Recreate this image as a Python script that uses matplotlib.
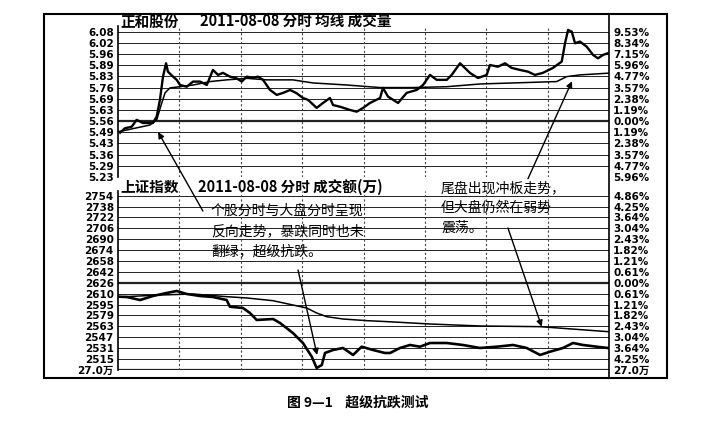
import matplotlib.pyplot as plt
import numpy as np
from matplotlib.patches import Rectangle
from matplotlib.lines import Line2D

W, H = 711, 426
plt.rcParams['font.family'] = ['Noto Sans CJK SC', 'DejaVu Sans']

# 正和股份 分时 (分钟, 价格)
t_price = [1, 3.4, 6.7, 9.1, 12.2, 17.1, 18.9, 20.5, 22, 23.5, 24.4, 26.9, 28.7, 30.3,
           33.6, 36.7, 40.1, 43.4, 46.4, 48.9, 51.3, 54.7, 58, 60.5, 62.9, 66, 68.4,
           70.9, 74.3, 77.6, 80.7, 84.1, 87.3, 90.4, 92.9, 97.1, 100.2, 103.6, 105.1,
           108.5, 113.4, 116.7, 119.8, 123.2, 128.1, 129.5, 132, 136.9, 141.1, 146,
           149.1, 152.5, 155.8, 160.7, 163.1, 167.2, 172.1, 176, 180.2, 181.8, 185.7,
           189.2, 192.4, 196.5, 200.4, 203.8, 207.7, 212.6, 216.9, 218.5, 220, 221.8,
           223.4, 225.8, 229.1, 232.2, 234.6, 237.1, 239.5]
price = [5.489, 5.515, 5.524, 5.564, 5.546, 5.546, 5.583, 5.681, 5.817, 5.895, 5.846,
         5.817, 5.798, 5.768, 5.758, 5.788, 5.788, 5.768, 5.856, 5.827, 5.839, 5.817,
         5.807, 5.788, 5.817, 5.809, 5.817, 5.798, 5.739, 5.710, 5.722, 5.739, 5.720,
         5.692, 5.681, 5.634, 5.663, 5.692, 5.651, 5.641, 5.622, 5.612, 5.634, 5.663,
         5.692, 5.751, 5.700, 5.663, 5.722, 5.739, 5.768, 5.827, 5.798, 5.798, 5.827,
         5.895, 5.838, 5.809, 5.827, 5.885, 5.875, 5.895, 5.868, 5.856, 5.846, 5.827,
         5.839, 5.868, 5.905, 6.012, 6.090, 6.080, 6.012, 6.022, 5.992, 5.944, 5.924,
         5.944, 5.954]
t_avg = [0, 4.3, 15.6, 18.9, 21.4, 23, 25.4, 30.3, 36.7, 45, 53.1, 62.9, 72.7, 85.5,
         95.3, 111.8, 128.1, 144.2, 160.7, 177, 193.1, 214.4, 219.3, 225.8, 239.5]
price_avg = [5.495, 5.505, 5.534, 5.564, 5.663, 5.722, 5.751, 5.758, 5.768, 5.788,
             5.798, 5.807, 5.798, 5.798, 5.780, 5.768, 5.753, 5.753, 5.758, 5.774,
             5.780, 5.788, 5.817, 5.827, 5.837]

# 上证指数 分时
t_index = [0.1, 4.3, 10.8, 17.1, 23.8, 28.7, 33.6, 40.1, 46.4, 53.1, 54.7, 61.1, 64.5,
           67.8, 75.8, 79.2, 85.5, 90.4, 94.7, 97.1, 99.6, 101.2, 105.1, 110, 114.9,
           119.1, 124.6, 130.5, 133, 137.8, 142.7, 147.6, 152.5, 160.7, 168.6, 176.9,
           185.1, 193.1, 199.8, 206.3, 211.2, 217.5, 222.4, 227.3, 234, 239.5]
index = [2606.3, 2605.8, 2601.4, 2607.3, 2611.7, 2614.6, 2610.2, 2607.3, 2605.8, 2601.4,
         2591.6, 2589.7, 2582.4, 2572.2, 2573.6, 2567.8, 2553.1, 2538.5, 2518.5, 2502.0,
         2506.3, 2523.9, 2528.3, 2531.2, 2521.0, 2533.1, 2528.3, 2523.9, 2523.9, 2531.2,
         2535.6, 2533.1, 2538.5, 2538.5, 2535.6, 2531.2, 2533.1, 2535.6, 2531.2, 2521.0,
         2525.8, 2531.2, 2538.5, 2535.6, 2533.1, 2531.2]
t_index_avg = [0, 20.5, 36.7, 53.1, 62.9, 75.8, 85.5, 92.3, 97.1, 102, 110, 121.6, 132,
               152.5, 176.9, 206.3, 239.5]
index_avg = [2605.8, 2608.7, 2610.2, 2606.3, 2604.4, 2600.4, 2594.1, 2589.7, 2582.4,
             2577.0, 2573.6, 2571.2, 2569.7, 2566.3, 2563.4, 2562.4, 2555.1]

price_left = ['6.08', '6.02', '5.96', '5.89', '5.83', '5.76', '5.69', '5.63', '5.56',
              '5.49', '5.43', '5.36', '5.29', '5.23']
price_right = ['9.53%', '8.34%', '7.15%', '5.96%', '4.77%', '3.57%', '2.38%', '1.19%',
               '0.00%', '1.19%', '2.38%', '3.57%', '4.77%', '5.96%']
index_left = ['2754', '2738', '2722', '2706', '2690', '2674', '2658', '2642', '2626',
              '2610', '2595', '2579', '2563', '2547', '2531', '2515', '27.0万']
index_right = ['4.86%', '4.25%', '3.64%', '3.04%', '2.43%', '1.82%', '1.21%', '0.61%',
               '0.00%', '0.61%', '1.21%', '1.82%', '2.43%', '3.04%', '3.64%', '4.25%',
               '27.0万']

label_font = dict(fontweight='bold', fontsize=7.5, family=['DejaVu Sans', 'Noto Sans CJK SC'])


def rect(x0, y0, x1, y1):
    return [x0 / W, 1 - y1 / H, (x1 - x0) / W, (y1 - y0) / H]


def panel(ax, ticks, left, right, zero_row, bottom_thick=False):
    ax.set_xlim(0, 240)
    for i, y in enumerate(ticks):
        lw = 1.6 if i == zero_row else 0.7
        if bottom_thick and i == len(ticks) - 1:
            lw = 1.6
        ax.axhline(y, color='#222222', lw=lw, zorder=1)
    for t in range(30, 240, 30):
        ax.axvline(t, color='#444444', lw=0.8, ls=(0, (2, 2)), zorder=1)
    ax.set_xticks([])
    ax.set_yticks(ticks)
    ax.set_yticklabels(left, **label_font)
    ax.tick_params(axis='y', length=0, pad=3)
    for s in ['top', 'right', 'bottom']:
        ax.spines[s].set_visible(False)
    ax.spines['left'].set_linewidth(1.2)
    axr = ax.twinx()
    axr.set_ylim(ax.get_ylim())
    axr.set_yticks(ticks)
    axr.set_yticklabels(right, **label_font)
    axr.tick_params(axis='y', length=0, pad=3)
    for s in axr.spines.values():
        s.set_visible(False)
    return axr


fig = plt.figure(figsize=(W / 100, H / 100), dpi=100)

# 上半部分：个股
ax1 = fig.add_axes(rect(118, 26, 609, 177))
ax1.set_ylim(5.2303, 6.113)
ticks1 = np.linspace(6.08, 5.23, len(price_left))
panel(ax1, ticks1, price_left, price_right, 8)
ax1.plot(t_avg, price_avg, color='black', lw=1.1, zorder=3)
ax1.plot(t_price, price, color='black', lw=1.7, zorder=4)

# 下半部分：大盘
ax2 = fig.add_axes(rect(118, 191, 609, 370))
ax2.set_ylim(2499.0, 2760.9)
ticks2 = np.linspace(2754, 2499.1, len(index_left))
panel(ax2, ticks2, index_left, index_right, 8, bottom_thick=True)
ax2.plot(t_index_avg, index_avg, color='black', lw=1.1, zorder=3)
ax2.plot(t_index, index, color='black', lw=1.9, zorder=4)

# 标题
fig.text(120 / W, 1 - 22 / H, '正和股份', fontsize=10.5, fontweight='bold', va='center')
fig.text(200 / W, 1 - 22 / H, '2011-08-08 分时 均线 成交量', fontsize=10.5,
         fontweight='bold', va='center')
fig.text(120 / W, 1 - 187 / H, '上证指数', fontsize=10.5, fontweight='bold', va='center')
fig.text(198 / W, 1 - 187 / H, '2011-08-08 分时 成交额(万)', fontsize=10.5,
         fontweight='bold', va='center')

# 外框与右轴线
fig.patches.append(Rectangle((44 / W, 1 - 378 / H), (667 - 44) / W, (378 - 14) / H,
                             transform=fig.transFigure, fill=False, lw=1.5, color='black'))
fig.lines.append(Line2D([609 / W, 609 / W], [1 - 14 / H, 1 - 378 / H],
                        transform=fig.transFigure, color='black', lw=1.2))

# 注释文字
fig.text(211 / W, 1 - 204 / H, '个股分时与大盘分时呈现\n反向走势，暴跌同时也未\n翻绿，超级抗跌。',
         fontsize=10, va='top', ha='left', linespacing=1.55, zorder=5)
fig.text(441 / W, 1 - 181 / H, '尾盘出现冲板走势，\n但大盘仍然在弱势\n震荡。',
         fontsize=10, va='top', ha='left', linespacing=1.55, zorder=5)

arrow = dict(arrowstyle='-|>', color='black', lw=1.0, mutation_scale=9, shrinkA=0, shrinkB=0)
ax2.annotate('', xy=(19.6, 5.493), xycoords=ax1.transData, xytext=(41.5, 2731.6),
             textcoords='data', arrowprops=arrow, annotation_clip=False)
ax2.annotate('', xy=(97.3, 2521.0), xytext=(88.0, 2645.3), arrowprops=arrow,
             annotation_clip=False)
ax1.annotate('', xy=(221.9, 5.790), xytext=(200.4, 5.22), arrowprops=arrow,
             annotation_clip=False)
ax2.annotate('', xy=(207.1, 2562.4), xytext=(190.6, 2706.8), arrowprops=arrow,
             annotation_clip=False)

# 图题
fig.text(358 / W, 1 - 403 / H, '图 9—1    超级抗跌测试', fontsize=10, fontweight='bold',
         ha='center', va='center')

fig.savefig('out.png', dpi=100)
